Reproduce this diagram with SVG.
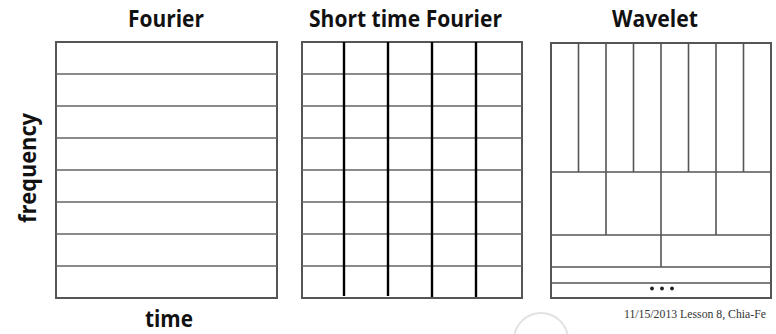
<svg xmlns="http://www.w3.org/2000/svg" width="776" height="334" viewBox="0 0 776 334">
<style>
.title{font-family:"Open Sans","Noto Sans",sans-serif;font-weight:bold;font-size:23px;fill:#111;text-anchor:middle}
.box{fill:#fff;stroke:#555;stroke-width:2}
.h{stroke:#666;stroke-width:1.6}
.v{stroke:#000;stroke-width:2.4}
.w{stroke:#555;stroke-width:1.6}
.foot{font-family:"Liberation Serif",serif;font-size:12.2px;fill:#333}
</style>
<rect width="776" height="334" fill="#fff"/>
<circle cx="541" cy="340" r="27" fill="none" stroke="#e2e2e2" stroke-width="2"/>
<g id="fourier">
<text class="title" x="166" y="27" textLength="76" lengthAdjust="spacingAndGlyphs">Fourier</text>
<rect class="box" x="56" y="42" width="221" height="256"/>
<path class="h" d="M56 74H277M56 106H277M56 138H277M56 170H277M56 202H277M56 234H277M56 266H277"/>
</g>
<g id="stft">
<text class="title" x="405.5" y="27" textLength="193" lengthAdjust="spacingAndGlyphs">Short time Fourier</text>
<rect class="box" x="302" y="42" width="220" height="256"/>
<path class="h" d="M302 74H522M302 106H522M302 138H522M302 170H522M302 202H522M302 234H522M302 266H522"/>
<path class="v" d="M344 42V296M388 42V296M432 42V297M476 42V297"/>
</g>
<g id="wavelet">
<text class="title" x="655" y="27" textLength="86" lengthAdjust="spacingAndGlyphs">Wavelet</text>
<rect class="box" x="551" y="43" width="220" height="255"/>
<path class="w" d="M551 172H771M551 235H771M551 267H771M551 283H771"/>
<path class="w" d="M578.5 43V172M606 43V235M633.5 43V172M661 43V267M688.5 43V172M716 43V235M743.5 43V172"/>
<g fill="#222"><circle cx="652" cy="288.5" r="1.9"/><circle cx="662" cy="288.5" r="1.9"/><circle cx="672" cy="288.5" r="1.9"/></g>
</g>
<g id="axis-labels">
<text class="title" transform="translate(36 168) rotate(-90)" textLength="110" lengthAdjust="spacingAndGlyphs">frequency</text>
<text class="title" x="169" y="327" textLength="48" lengthAdjust="spacingAndGlyphs">time</text>
</g>
<text class="foot" x="624" y="318" textLength="142" lengthAdjust="spacingAndGlyphs">11/15/2013 Lesson 8, Chia-Fe</text>
</svg>
